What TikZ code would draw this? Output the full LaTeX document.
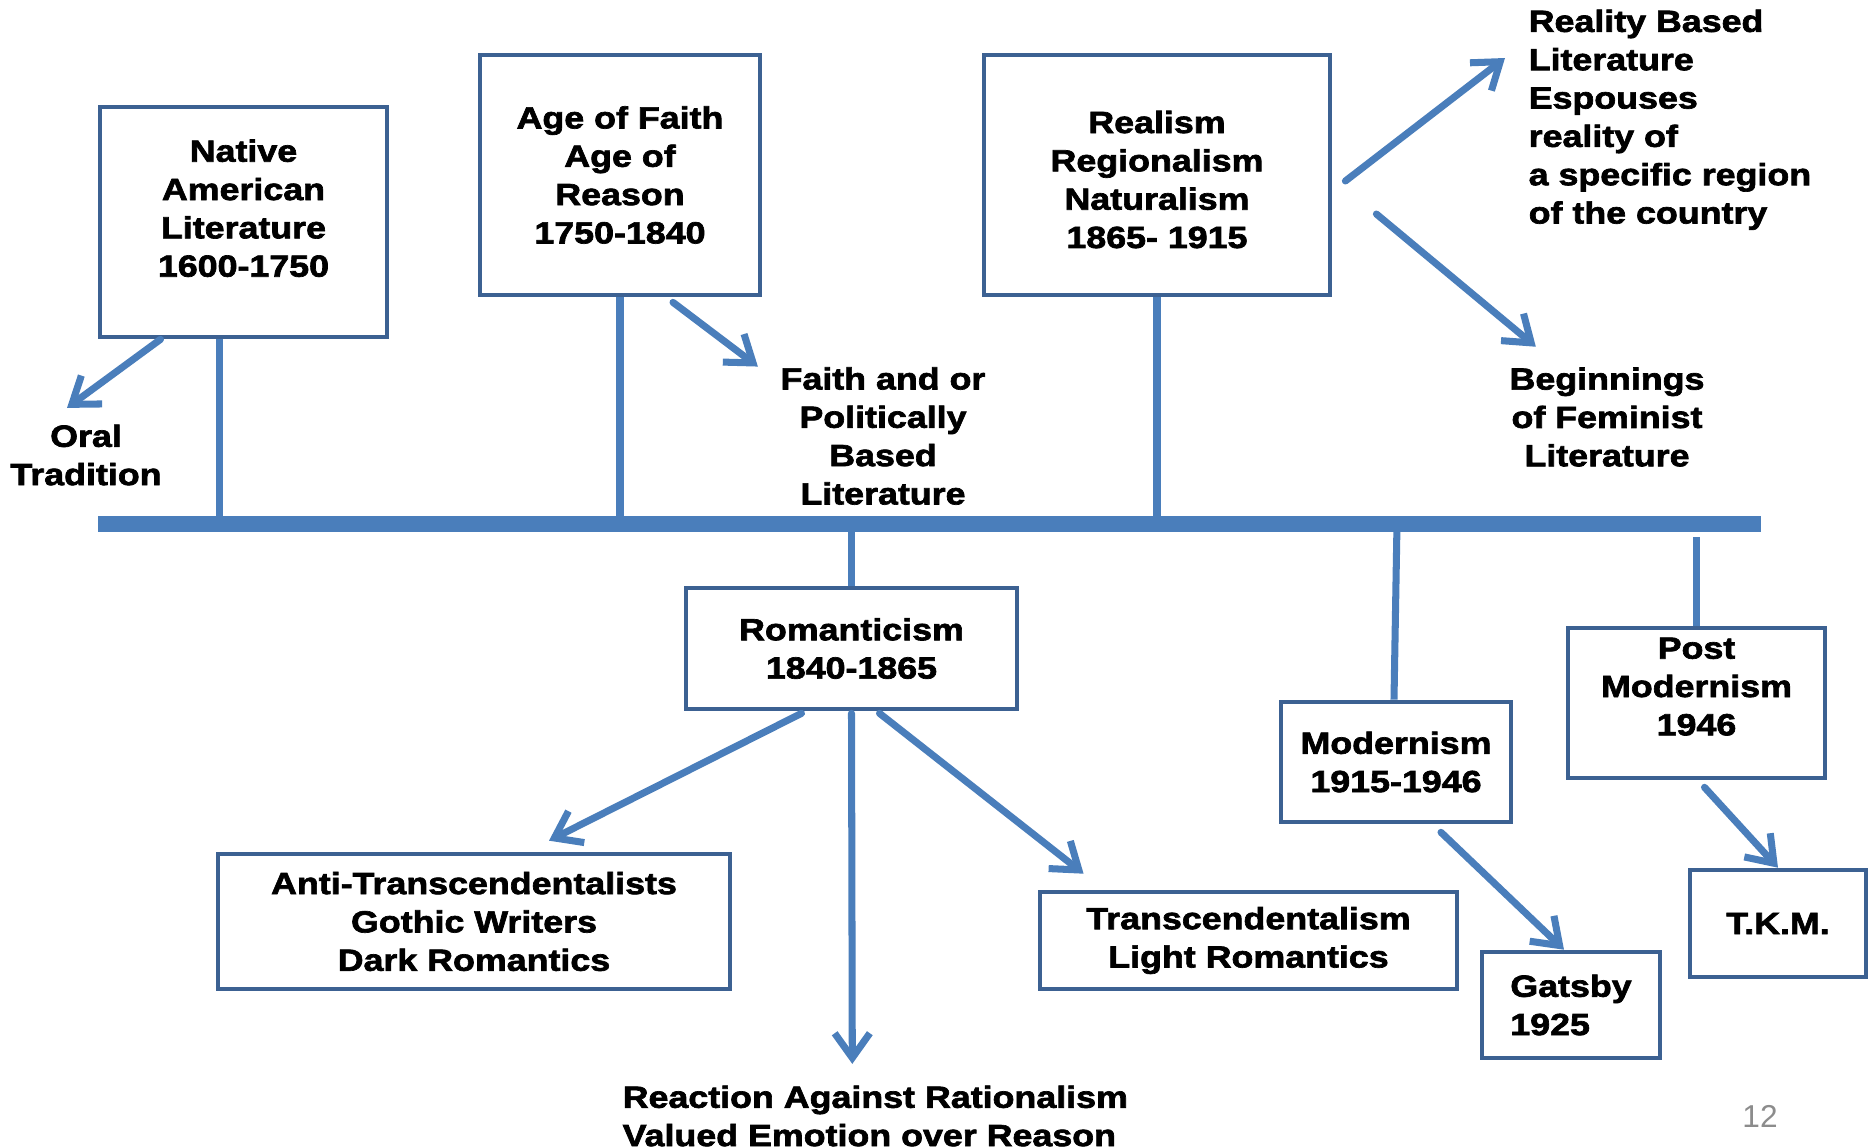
\documentclass[tikz,border=0pt]{standalone}
\usepackage{fontspec}
\setmainfont{Liberation Sans}
\newfontfamily\heavy{Liberation Sans}[FakeStretch=1.17, BoldFeatures={FakeBold=2.2}]
\usetikzlibrary{arrows.meta}
\definecolor{boxblue}{HTML}{3C6192}
\definecolor{lineblue}{HTML}{4A7EBB}
\definecolor{pagegray}{HTML}{8C8C8C}
\tikzset{
	era/.style={draw=boxblue, line width=1.3pt, align=center, inner sep=0pt, font=\heavy\bfseries\fontsize{8.7pt}{10.9pt}\selectfont},
	note/.style={align=center, inner sep=0pt, font=\heavy\bfseries\fontsize{8.7pt}{10.9pt}\selectfont},
	stem/.style={draw=lineblue, line width=2pt},
	arr/.style={stem, line cap=round, line join=round, -{Straight Barb[length=7pt, width=10pt]}},
}
\begin{document}
\begin{tikzpicture}[x=0.01cm, y=-0.01cm]
		\useasboundingbox (0,0) rectangle (1868,1148);
		%time line
		\coordinate (barL) at (98,524);
		\coordinate (barR) at (1761,524);
		\draw[lineblue, line width=4.3pt] (barL) -- (barR);
		
		%eras above the line
		\node[era, minimum width=2.87cm, minimum height=2.30cm] (native) at (243.5,222) {Native\\American\\Literature\\1600-1750\\[-3pt]\mbox{}};
		\node[era, minimum width=2.80cm, minimum height=2.40cm] (faith) at (620,175) {Age of Faith\\Age of\\Reason\\1750-1840};
		\node[era, minimum width=3.46cm, minimum height=2.40cm] (realism) at (1157,175) {\mbox{}\\[-2pt]Realism\\Regionalism\\Naturalism\\1865- 1915};
		
		\node[note] (oral) at (86,455) {Oral\\Tradition};
		\node[note] (faithlbl) at (883,436) {Faith and or\\Politically\\Based\\Literature};
		\node[note, align=left, anchor=north west] (reality) at (1528,9) {Reality Based\\Literature\\Espouses\\reality of\\a specific region\\of the country};
		\node[note] (feminist) at (1607,417) {Beginnings\\of Feminist\\Literature};
		
		\draw[stem] ([shift={(-24,0)}]native.south) -- ([shift={(-24,0)}]native.south |- barL);
		\draw[stem] (faith.south) -- (faith.south |- barL);
		\draw[stem] (realism.south) -- (realism.south |- barL);
		
		\draw[arr] ([shift={(-83,0)}]native.south) -- ([shift={(-19,-16)}]oral.north);
		\draw[arr] ([shift={(53,5)}]faith.south) -- ([shift={(-22,0)}]faithlbl.north west);
		\draw[arr] ([shift={(13,6)}]realism.east) -- ([shift={(-23,49)}]reality.north west);
		\draw[arr] ([shift={(44,39)}]realism.east) -- ([shift={(27,-20)}]feminist.north west);
		
		%eras below the line
		\node[era, minimum width=3.31cm, minimum height=1.21cm] (roman) at (851.5,648.5) {Romanticism\\1840-1865};
		\node[era, minimum width=2.30cm, minimum height=1.20cm] (modern) at (1396,762) {Modernism\\1915-1946};
		\node[era, minimum width=2.57cm, minimum height=1.50cm] (post) at (1696.5,703) {Post\\Modernism\\1946\\[-1.5pt]\mbox{}};
		
		\node[era, minimum width=5.12cm, minimum height=1.35cm] (anti) at (474,921.5) {Anti-Transcendentalists\\Gothic Writers\\Dark Romantics};
		\node[era, minimum width=4.17cm, minimum height=0.97cm] (trans) at (1248.5,940.5) {Transcendentalism\\Light Romantics};
		\node[note, align=left, anchor=west] (reaction) at (622,1116) {Reaction Against Rationalism\\Valued Emotion over Reason};
		\node[era, align=left, minimum width=1.78cm, minimum height=1.06cm] (gatsby) at (1571,1005) {Gatsby\\1925};
		\node[era, minimum width=1.76cm, minimum height=1.07cm] (tkm) at (1778,923.5) {T.K.M.};
		
		\draw[stem] (roman.north) -- (roman.north |- barL);
		\draw[stem] ([shift={(-2,0)}]modern.north) -- ([shift={(1,0)}]modern.north |- barL);
		\draw[stem] (post.north) -- ([shift={(0,13)}]post.north |- barL);
		
		\draw[arr] ([shift={(-50,2)}]roman.south) -- ([shift={(75,-11)}]anti.north);
		\draw[arr] ([shift={(0,2)}]roman.south) -- ([shift={(-23,-21)}]reaction.north);
		\draw[arr] ([shift={(28,2)}]roman.south) -- ([shift={(46,-16)}]trans.north west);
		\draw[arr] ([shift={(45,8)}]modern.south) -- ([shift={(-7,0)}]gatsby.north);
		\draw[arr] ([shift={(8,7)}]post.south) -- (tkm.north);
		
		\node[font=\fontsize{9pt}{11pt}\selectfont, text=pagegray, inner sep=0pt] (pageno) at (1760,1116) {12};
\end{tikzpicture}
\end{document}
